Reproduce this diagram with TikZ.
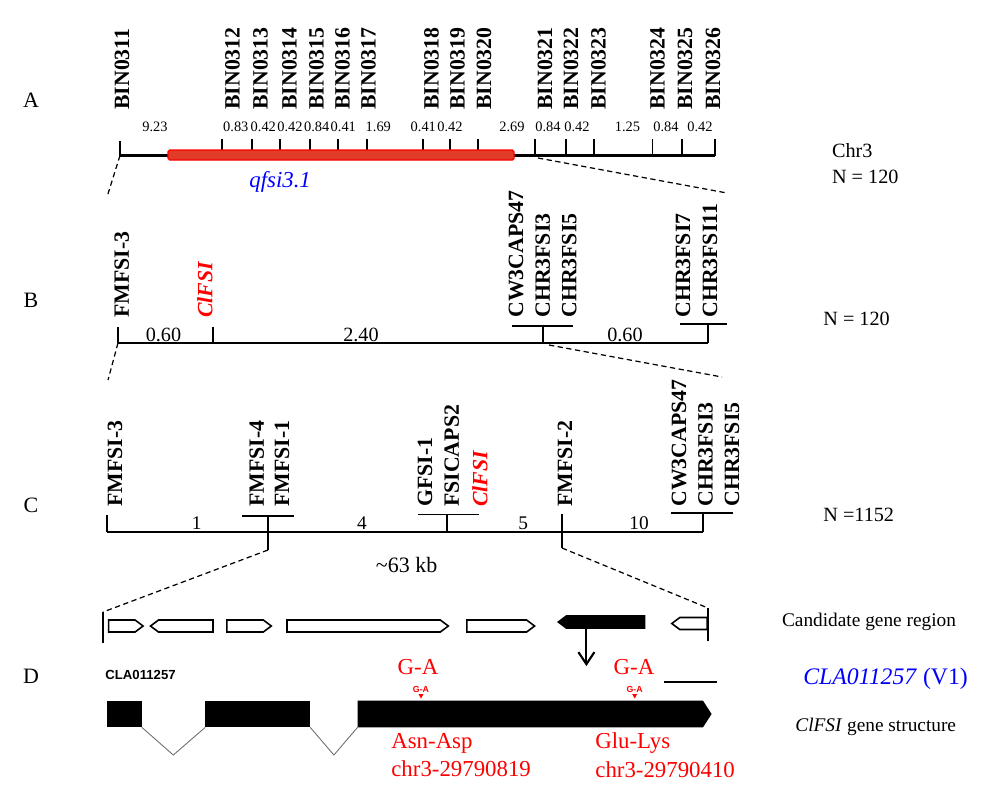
\documentclass[tikz,border=0pt]{standalone}
\usepackage{fontspec}
\setmainfont{Liberation Serif}
\newfontfamily\arialfont{Liberation Sans}
\usetikzlibrary{positioning,arrows.meta}
\definecolor{qtlred}{RGB}{225,60,40}
\definecolor{introngray}{RGB}{110,110,110}

\tikzset{
  panel/.style={inner sep=0pt, font=\fontsize{12.5}{13}\selectfont},
  marker/.style={rotate=90, anchor=west, inner sep=0pt, font=\fontsize{12.4}{13}\selectfont\bfseries},
  redmarker/.style={marker, text=red, font=\fontsize{12.4}{13}\selectfont\bfseries\itshape},
  dist/.style={inner sep=0pt, font=\fontsize{11.5}{12}\selectfont},
  side/.style={anchor=west, inner sep=0pt, font=\fontsize{11.5}{12}\selectfont},
  redtext/.style={anchor=west, inner sep=0pt, text=red, font=\fontsize{13}{14}\selectfont},
  mapline/.style={line width=1.5pt},
  tickmark/.style={line width=1.1pt},
  zoomline/.style={line width=0.7pt, dash pattern=on 3pt off 2pt},
  genebox/.style={draw, line width=0.9pt},
  intronline/.style={draw=introngray, line width=0.5pt}
}
\newcommand{\rgene}[4][white]{\draw[genebox, fill=#1] (#2,#4-6) -- (#3-8,#4-6) -- (#3,#4) -- (#3-8,#4+6) -- (#2,#4+6) -- cycle;}
\newcommand{\lgene}[4][white]{\draw[genebox, fill=#1] (#2,#4) -- (#2+8,#4-6) -- (#3,#4-6) -- (#3,#4+6) -- (#2+8,#4+6) -- cycle;}

\begin{document}
\begin{tikzpicture}[x=0.02cm, y=-0.02cm]
\useasboundingbox (0,0) rectangle (1000,799);

\foreach \p/\y in {A/100,B/300,C/505,D/676}
  \node[panel] (lab\p) at (31,\y) {\p};

% A
\coordinate (a0) at (120,155.5);
\coordinate (a1) at (715,155.5);
\draw[tickmark] (120,141) -- (a0);
\foreach \x in {221.7,251.7,280,310,338.3,366.7,423.3,450,478.3,535,566,594,652.5,682,715}
  \draw[tickmark] (\x,139) -- (\x,155.5);
\draw[mapline] (a0) -- (a1);
\draw[fill=qtlred, draw=red, line width=0.8pt, rounded corners=1pt] (168,150) rectangle (514,160);
\foreach \x/\n in {122/11,232.5/12,260.5/13,289.5/14,316.5/15,342.5/16,368.5/17,431.5/18,457.5/19,484/20,545/21,571/22,598.5/23,657.5/24,685/25,713/26}
  \node[marker] (bin\n) at (\x,110) {BIN03\n};
\foreach \x/\d [count=\i] in {155/9.23,235.8/0.83,263.3/0.42,290/0.42,316.7/0.84,343.3/0.41,378.3/1.69,423.3/0.41,450/0.42,512/2.69,548/0.84,577/0.42,627.5/1.25,666/0.84,700/0.42}
  \node[dist, font=\fontsize{8.2}{9}\selectfont] (da\i) at (\x,127) {\d};
\node[anchor=west, inner sep=0pt, text=blue, font=\fontsize{13}{14}\selectfont\itshape] (qtl) at (249,182) {qfsi3.1};
\node[side] (chr) at (831.7,151) {Chr3};
\node[side] (na) at (831.7,177) {N = 120};

% B
\coordinate (b0) at (118,343);
\coordinate (b1) at (708,343);
\draw[zoomline] (a0) -- (107,197);
\draw[zoomline] (538,158) -- (727,193);
\draw[mapline] (b0) -- (b1);
\draw[tickmark] (118,327) -- (b0);
\draw[tickmark] (213.4,327) -- (213.4,343);
\draw[tickmark] (512,326) -- (573,326) (543,326) -- (543,343);
\draw[tickmark] (680,324) -- (726.5,324) (708,324) -- (b1);
\node[marker] (fm3b) at (121.7,318) {FMFSI-3};
\node[redmarker] (clb) at (205,318) {ClFSI};
\foreach \x/\t [count=\i] in {516/CW3CAPS47,542.7/CHR3FSI3,569.3/CHR3FSI5,683/CHR3FSI7,710/CHR3FSI11}
  \node[marker] (mb\i) at (\x,318) {\t};
\foreach \x/\d [count=\i] in {163.5/0.60,361/2.40,625/0.60}
  \node[dist] (db\i) at (\x,335) {\d};
\node[side] (nb) at (823,318.5) {N = 120};

% C
\coordinate (c0) at (107,532);
\coordinate (c1) at (703,532);
\draw[zoomline] (b0) -- (108,380);
\draw[zoomline] (549,345) -- (722,377);
\draw[mapline] (c0) -- (c1);
\draw[tickmark] (107,515) -- (c0);
\draw[tickmark] (242,516) -- (294,516) (268,516) -- (268,550);
\draw[tickmark] (418.3,514.5) -- (479,514.5) (446.7,514.5) -- (446.7,532);
\draw[tickmark] (562,514) -- (562,548);
\draw[tickmark] (670.5,513) -- (733.4,513) (703,513) -- (c1);
\foreach \x/\t [count=\i] in {115/FMFSI-3,256.7/FMFSI-4,282/FMFSI-1,451.7/FSICAPS2,565/FMFSI-2,679/CW3CAPS47,705.5/CHR3FSI3,732/CHR3FSI5}
  \node[marker] (mc\i) at (\x,507) {\t};
\node[marker] (gf1) at (425,507) {GFSI-1};
\node[redmarker] (clc) at (480,507) {ClFSI};
\foreach \x/\d [count=\i] in {196.7/1,362/4,523.3/5,639/10}
  \node[dist, font=\fontsize{11}{12}\selectfont] (dc\i) at (\x,523) {\d};
\node[dist, font=\fontsize{12.5}{13}\selectfont] (kb) at (406.6,565) {\textasciitilde63 kb};
\node[side] (nc) at (823,515) {N =1152};

% D
\coordinate (d0) at (103,612);
\coordinate (d1) at (708,608);
\draw[zoomline] (268,550) -- (d0);
\draw[zoomline] (562,548) -- (d1);
\draw[tickmark] (d0) -- (103,643);
\draw[tickmark] (d1) -- (708,641);
\rgene{108.6}{143.1}{626}
\lgene{150.5}{213}{626}
\rgene{226.9}{271.3}{626}
\rgene{287}{448.3}{626}
\rgene{466.8}{534.6}{626}
\lgene[black]{558.3}{644.6}{622}
\lgene{671.8}{707.2}{623.5}
\draw[line width=1.2pt, -{Straight Barb[length=2.4mm,width=3.2mm]}] (586.4,628) -- (586.4,666);
\node[side, font=\fontsize{11}{12}\selectfont] (cand) at (781.7,622) {Candidate gene region};

\node[anchor=west, inner sep=0pt, font=\arialfont\fontsize{7.5}{8}\selectfont\bfseries] (cla) at (105,675) {CLA011257};
\node[redtext, anchor=center] (ga1) at (418,667) {G-A};
\node[redtext, anchor=center] (ga2) at (634,667) {G-A};
\draw[line width=1pt] (664,682) -- (716.7,682);
\node[anchor=west, inner sep=0pt, text=blue, font=\fontsize{13.5}{14}\selectfont] (ver) at (803,678.5) {\textit{CLA011257}\ (V1)};

\fill (107.3,700.7) rectangle (141.8,727.3);
\fill (205.3,700.7) rectangle (310.2,727.3);
\fill (357.6,700.7) -- (703,700.7) -- (711.6,714) -- (703,727.3) -- (357.6,727.3) -- cycle;
\draw[intronline] (141.8,727.3) -- (173.3,755) -- (205.3,727.3);
\draw[intronline] (310.2,727.3) -- (333.9,755) -- (357.6,727.3);
\foreach \x [count=\i] in {421,634.7} {
  \node[inner sep=0pt, text=red, font=\arialfont\fontsize{5}{5}\selectfont\bfseries] (sga\i) at (\x,689) {G-A};
  \fill[red] (\x-2.5,694) -- (\x+2.5,694) -- (\x,698.5) -- cycle;
}
\node[redtext] (aa1) at (391,743.5) {Asn-Asp};
\node[redtext] (pos1) at (391,769) {chr3-29790819};
\node[redtext] (aa2) at (595,743.5) {Glu-Lys};
\node[redtext] (pos2) at (595,769.5) {chr3-29790410};
\node[side, font=\fontsize{11}{12}\selectfont] (gs) at (795,727) {\textit{ClFSI} gene structure};
\end{tikzpicture}
\end{document}
